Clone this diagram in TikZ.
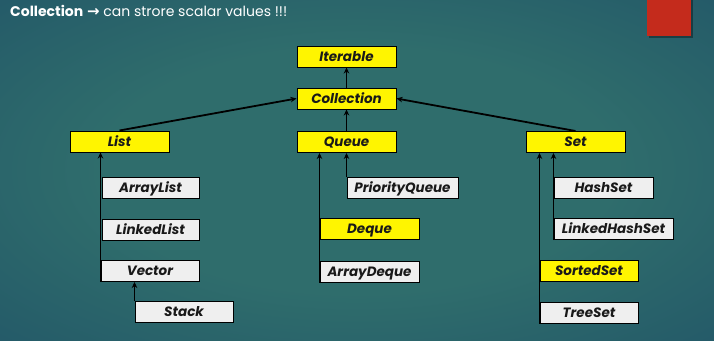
\documentclass[tikz,border=0pt]{standalone}
\usepackage{fontspec}
\setmainfont{Poppins}
\newfontfamily\symfont{DejaVu Sans}
\usetikzlibrary{arrows.meta}

\definecolor{bgcenter}{HTML}{2F6D6C}
\definecolor{bgmid}{HTML}{235868}
\definecolor{bgedge}{HTML}{153849}
\definecolor{hlyellow}{HTML}{FFF500}
\definecolor{plainbox}{HTML}{EFEFEF}
\definecolor{accentred}{HTML}{C42B1C}

\pgfdeclareradialshading{slidebg}{\pgfpoint{0bp}{0bp}}{%
  color(0bp)=(bgcenter); color(18bp)=(bgcenter); color(38bp)=(bgmid);
  color(62bp)=(bgedge); color(75bp)=(bgedge)}

\tikzset{
  box/.style={draw=black, line width=1pt, minimum height=21pt, inner sep=0pt,
    text height=9.4pt, text depth=0pt,
    font=\fontsize{13.5}{15}\selectfont\bfseries\itshape, text=black!90},
  ifacebox/.style={box, fill=hlyellow},
  classbox/.style={box, fill=plainbox},
  link/.style={line width=1.8pt, black, -{Stealth[length=6pt,width=5.5pt]}},
}

\begin{document}
\begin{tikzpicture}[x=1pt, y=-1pt]
  % slide background and corner accent
  \shade[shading=slidebg] (0,0) rectangle (714,340);
  \useasboundingbox (0,0) rectangle (714,340);
  \fill[black, opacity=0.35] (649,0) rectangle (693,38);
  \fill[accentred] (647,0) rectangle (691,36);

  % heading
  \node[anchor=west, text=white, inner sep=0pt, font=\fontsize{14}{16}\selectfont] (title) at (10,11)
    {\textbf{Collection} {\symfont\bfseries\fontsize{15}{16}\selectfont →} can strore scalar values !!!};

  % interfaces
  \node[ifacebox, minimum width=99pt] (Iterable)   at (346.5,56.5)  {Iterable};
  \node[ifacebox, minimum width=99pt] (Collection) at (346.5,98.5)  {Collection};
  \node[ifacebox, minimum width=99pt] (List)       at (119.5,141.5) {List};
  \node[ifacebox, minimum width=99pt] (Queue)      at (346.5,142)   {Queue};
  \node[ifacebox, minimum width=99pt] (Set)        at (575.5,142)   {Set};
  \node[ifacebox, minimum width=99pt] (Deque)      at (369.5,229)   {Deque};
  \node[ifacebox, minimum width=98pt] (SortedSet)  at (589,271)     {SortedSet};

  % implementations
  \node[classbox, minimum width=97pt]  (ArrayList)     at (150.5,187.5) {ArrayList};
  \node[classbox, minimum width=97pt]  (LinkedList)    at (150.5,229.5) {LinkedList};
  \node[classbox, minimum width=98pt]  (Vector)        at (150,271)     {Vector};
  \node[classbox, minimum width=98pt]  (Stack)         at (184,312)     {Stack};
  \node[classbox, minimum width=111pt] (PriorityQueue) at (402.5,187.5) {PriorityQueue};
  \node[classbox, minimum width=99pt]  (ArrayDeque)    at (369.5,271.5) {ArrayDeque};
  \node[classbox, minimum width=99pt]  (HashSet)       at (603.5,187.5) {HashSet};
  \node[classbox, minimum width=119pt] (LinkedHashSet) at (613.5,229)   {LinkedHashSet};
  \node[classbox, minimum width=98pt]  (TreeSet)       at (589,312.5)   {TreeSet};

  % inheritance links
  \draw[link] (Collection.north) -- (Iterable.south);
  \draw[link] (Queue.north) -- (Collection.south);
  \draw[link] (List.north) -- (Collection.west);
  \draw[link] (Set.north) -- (Collection.east);

  \draw[link] (Vector.south west) -- (Vector.south west |- List.south);
  \draw[link] (Stack.north west) -- (Stack.north west |- Vector.south);
  \draw[link] (PriorityQueue.north west) -- (PriorityQueue.north west |- Queue.south);
  \draw[link] (ArrayDeque.south west) -- (ArrayDeque.south west |- Queue.south);
  \draw[link] (LinkedHashSet.south west) -- (LinkedHashSet.south west |- Set.south);
  \draw[link] (TreeSet.south west) -- (TreeSet.south west |- Set.south);
\end{tikzpicture}
\end{document}
